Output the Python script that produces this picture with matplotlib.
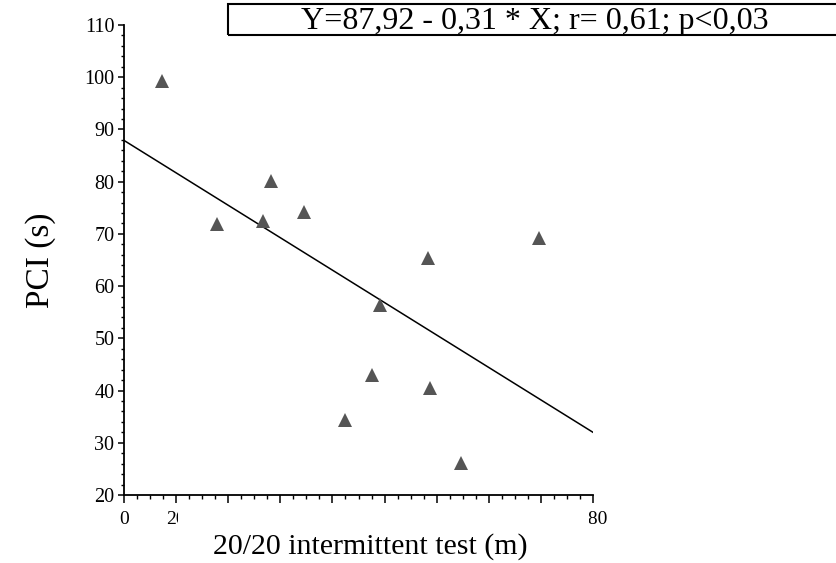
import matplotlib
matplotlib.use('Agg')
import matplotlib.pyplot as plt
from matplotlib.patches import Rectangle
from matplotlib.transforms import Bbox
from matplotlib.ticker import MultipleLocator

plt.rcParams['font.family'] = ['Liberation Serif', 'DejaVu Serif']

# data
test_m = [14.7, 35.6, 53.5, 56.3, 68.9, 85.0, 95.2, 98.2, 116.7, 117.3, 129.2, 159.4]
pci_s = [99.2, 71.9, 72.5, 80.2, 74.2, 34.4, 43.0, 56.4, 65.3, 40.4, 26.1, 69.2]

# regression line end points (Y = 87,92 - 0,31 * X)
line_x = [0, 180]
line_y = [87.9, 32.0]

equation = 'Y=87,92 - 0,31 * X; r= 0,61; p<0,03'
xtick_vals = [0, 20, 180]
xtick_text = ['0', '20', '180']

W, H = 836, 563
fig = plt.figure(figsize=(W / 100, H / 100), dpi=100)
ax = fig.add_axes([124 / W, 1 - 495 / H, (593 - 124) / W, (495 - 25) / H])

ax.plot(line_x, line_y, color='black', lw=1.1)
ax.plot(test_m, pci_s, linestyle='none', marker='^', markersize=9.5,
        color='#555555', markeredgewidth=0)

ax.set_xlim(0, 180)
ax.set_ylim(20, 110)
ax.spines['top'].set_visible(False)
ax.spines['right'].set_visible(False)
ax.spines['left'].set_linewidth(1.3)
ax.spines['bottom'].set_linewidth(1.3)

ax.yaxis.set_major_locator(MultipleLocator(10))
ax.yaxis.set_minor_locator(MultipleLocator(2))
ax.xaxis.set_major_locator(MultipleLocator(20))
ax.xaxis.set_minor_locator(MultipleLocator(5))
ax.tick_params(axis='y', which='major', length=4, width=1.1, labelsize=14.5, pad=3)
ax.tick_params(axis='y', which='minor', length=2.5, width=1.0)
ax.tick_params(axis='x', which='major', length=6, width=1.1)
ax.tick_params(axis='x', which='minor', length=3, width=1.0)
ax.set_xticklabels([])

# x tick labels, partly cut off like in the original
clips = [None, Bbox([[0, 0], [178, H]]), Bbox([[589, 0], [W, H]])]
for v, s, cb in zip(xtick_vals, xtick_text, clips):
    t = fig.text(v, -0.052, s, transform=ax.get_xaxis_transform(),
                 ha='center', va='center', fontsize=14)
    if cb is not None:
        t.set_clip_box(cb)
        t.set_clip_on(True)

ax.set_xlabel('20/20 intermittent test (m)', fontsize=21.5)
ax.xaxis.set_label_coords(0.526, -0.08)
ax.xaxis.label.set_va('top')
ax.set_ylabel('PCI (s)', fontsize=24, labelpad=20)

fig.patches.append(Rectangle((228 / W, 1 - 35 / H), 700 / W, 31 / H,
                             transform=fig.transFigure, fill=False,
                             edgecolor='black', lw=1.5, clip_on=False))
fig.text(535 / W, 1 - 21 / H, equation, ha='center', va='center', fontsize=23)

fig.savefig('out.png', dpi=100)
